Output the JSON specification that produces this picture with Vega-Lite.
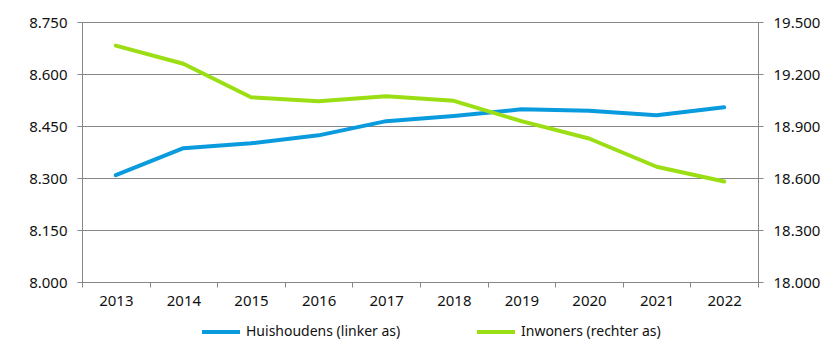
{
  "$schema": "https://vega.github.io/schema/vega-lite/v6.json",
  "autosize": {"type": "none"},
  "padding": {"left": 82, "top": 22, "right": 70, "bottom": 66},
  "width": 676,
  "height": 260,
  "background": "white",
  "config": {
    "locale": {"number": {"decimal": ",", "thousands": ".", "grouping": [3], "currency": ["€", ""]}},
    "font": "Noto Sans",
    "view": {"stroke": null},
    "axis": {"labelFont": "Noto Sans", "labelFontSize": 15, "labelColor": "#111111", "domainColor": "#878787", "tickColor": "#878787", "gridColor": "#878787", "tickSize": 5, "title": null}
  },
  "data": {"values": [
    {"jaar": "2013", "huishoudens": 8308, "inwoners": 19364},
    {"jaar": "2014", "huishoudens": 8386, "inwoners": 19259},
    {"jaar": "2015", "huishoudens": 8400, "inwoners": 19066},
    {"jaar": "2016", "huishoudens": 8423, "inwoners": 19043},
    {"jaar": "2017", "huishoudens": 8464, "inwoners": 19072},
    {"jaar": "2018", "huishoudens": 8479, "inwoners": 19045},
    {"jaar": "2019", "huishoudens": 8498, "inwoners": 18928},
    {"jaar": "2020", "huishoudens": 8494, "inwoners": 18828},
    {"jaar": "2021", "huishoudens": 8481, "inwoners": 18665},
    {"jaar": "2022", "huishoudens": 8504, "inwoners": 18580}
  ]},
  "encoding": {
    "x": {"field": "jaar", "type": "ordinal", "scale": {"paddingInner": 0, "paddingOuter": 0},
      "axis": {"labelAngle": 0, "tickBand": "extent", "labelPadding": 6, "domainColor": "#878787", "grid": false}}
  },
  "layer": [
    {
      "mark": {"type": "line", "strokeWidth": 4, "strokeCap": "round", "strokeJoin": "round"},
      "encoding": {
        "y": {"field": "huishoudens", "type": "quantitative", "scale": {"domain": [8000, 8750], "nice": false, "zero": false},
          "axis": {"orient": "left", "values": [8000, 8150, 8300, 8450, 8600, 8750], "format": ",d", "grid": true, "labelPadding": 10}},
        "color": {"datum": "Huishoudens (linker as)", "type": "nominal",
          "scale": {"domain": ["Huishoudens (linker as)", "Inwoners (rechter as)"], "range": ["#0A9BDE", "#9CDE14"]},
          "legend": {"title": null, "orient": "none", "direction": "horizontal", "legendX": 118, "legendY": 289,
            "symbolType": "stroke", "symbolSize": 1444, "symbolStrokeWidth": 4, "labelFontSize": 14, "labelFont": "Noto Sans", "labelColor": "#111111", "labelOffset": 4, "columnPadding": 68}}
      }
    },
    {
      "mark": {"type": "line", "strokeWidth": 4, "strokeCap": "round", "strokeJoin": "round"},
      "encoding": {
        "y": {"field": "inwoners", "type": "quantitative", "scale": {"domain": [18000, 19500], "nice": false, "zero": false},
          "axis": {"orient": "right", "values": [18000, 18300, 18600, 18900, 19200, 19500], "format": ",d", "grid": false, "labelPadding": 10}},
        "color": {"datum": "Inwoners (rechter as)", "type": "nominal"}
      }
    }
  ],
  "resolve": {"scale": {"y": "independent"}}
}
